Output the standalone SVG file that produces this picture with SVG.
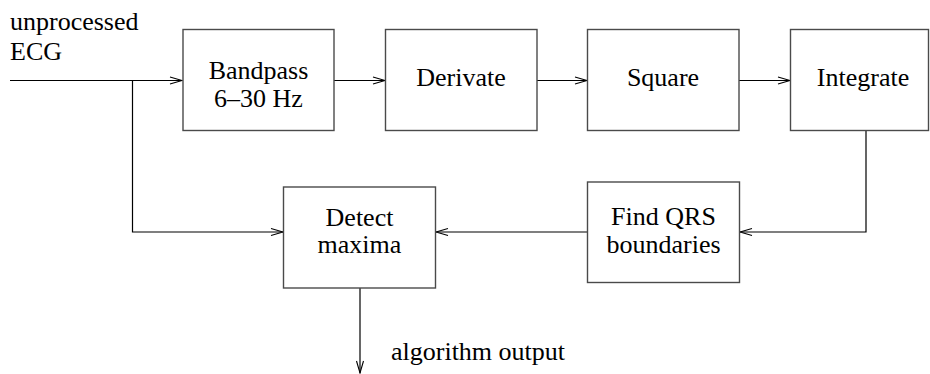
<svg xmlns="http://www.w3.org/2000/svg" width="930" height="374" viewBox="0 0 930 374">
<defs>
<style>
.box{fill:#fff;stroke:#4a4a4a;stroke-width:1.4}
.ln{fill:none;stroke:#000;stroke-width:1.2}
.ah{fill:none;stroke:#000;stroke-width:1.1}
text{font-family:"Liberation Serif","Times New Roman",serif;font-size:26px;fill:#000}
.c{text-anchor:middle}
</style>
<marker id="arr" viewBox="0 0 14 10" refX="13" refY="5" markerWidth="14" markerHeight="10" markerUnits="userSpaceOnUse" orient="auto">
<path class="ah" d="M1,1.5 L13,5 L1,8.5"/>
</marker>
</defs>
<rect width="930" height="374" fill="#fff"/>
<g id="connectors">
<path class="ln" d="M10,80.5 H182" marker-end="url(#arr)"/>
<path class="ln" d="M132.5,80.5 V232 H283" marker-end="url(#arr)"/>
<path class="ln" d="M334,80.5 H385" marker-end="url(#arr)"/>
<path class="ln" d="M537,80.5 H587" marker-end="url(#arr)"/>
<path class="ln" d="M739,80.5 H790" marker-end="url(#arr)"/>
<path class="ln" d="M866,130.5 V232 H740" marker-end="url(#arr)"/>
<path class="ln" d="M587,232 H436" marker-end="url(#arr)"/>
<path class="ln" d="M360,288 V373" marker-end="url(#arr)"/>
</g>
<g id="input-label">
<text x="10" y="30">unprocessed</text>
<text x="10" y="60">ECG</text>
</g>
<g id="bandpass">
<rect class="box" x="183" y="29.5" width="151" height="101"/>
<text class="c" x="258.5" y="79">Bandpass</text>
<text class="c" x="258.5" y="107">6–30 Hz</text>
</g>
<g id="derivate">
<rect class="box" x="385.5" y="29.5" width="151.5" height="101"/>
<text class="c" x="461" y="86">Derivate</text>
</g>
<g id="square">
<rect class="box" x="587.5" y="29.5" width="151.5" height="101"/>
<text class="c" x="663" y="86">Square</text>
</g>
<g id="integrate">
<rect class="box" x="790.5" y="29.5" width="138" height="101"/>
<text class="c" x="863" y="86">Integrate</text>
</g>
<g id="find-qrs">
<rect class="box" x="587.5" y="182" width="152" height="100.5"/>
<text class="c" x="663.5" y="225">Find QRS</text>
<text class="c" x="663.5" y="253">boundaries</text>
</g>
<g id="detect-maxima">
<rect class="box" x="283.5" y="187" width="152" height="101"/>
<text class="c" x="359.5" y="226">Detect</text>
<text class="c" x="359.5" y="253">maxima</text>
</g>
<g id="output-label">
<text x="391" y="360">algorithm output</text>
</g>
</svg>
